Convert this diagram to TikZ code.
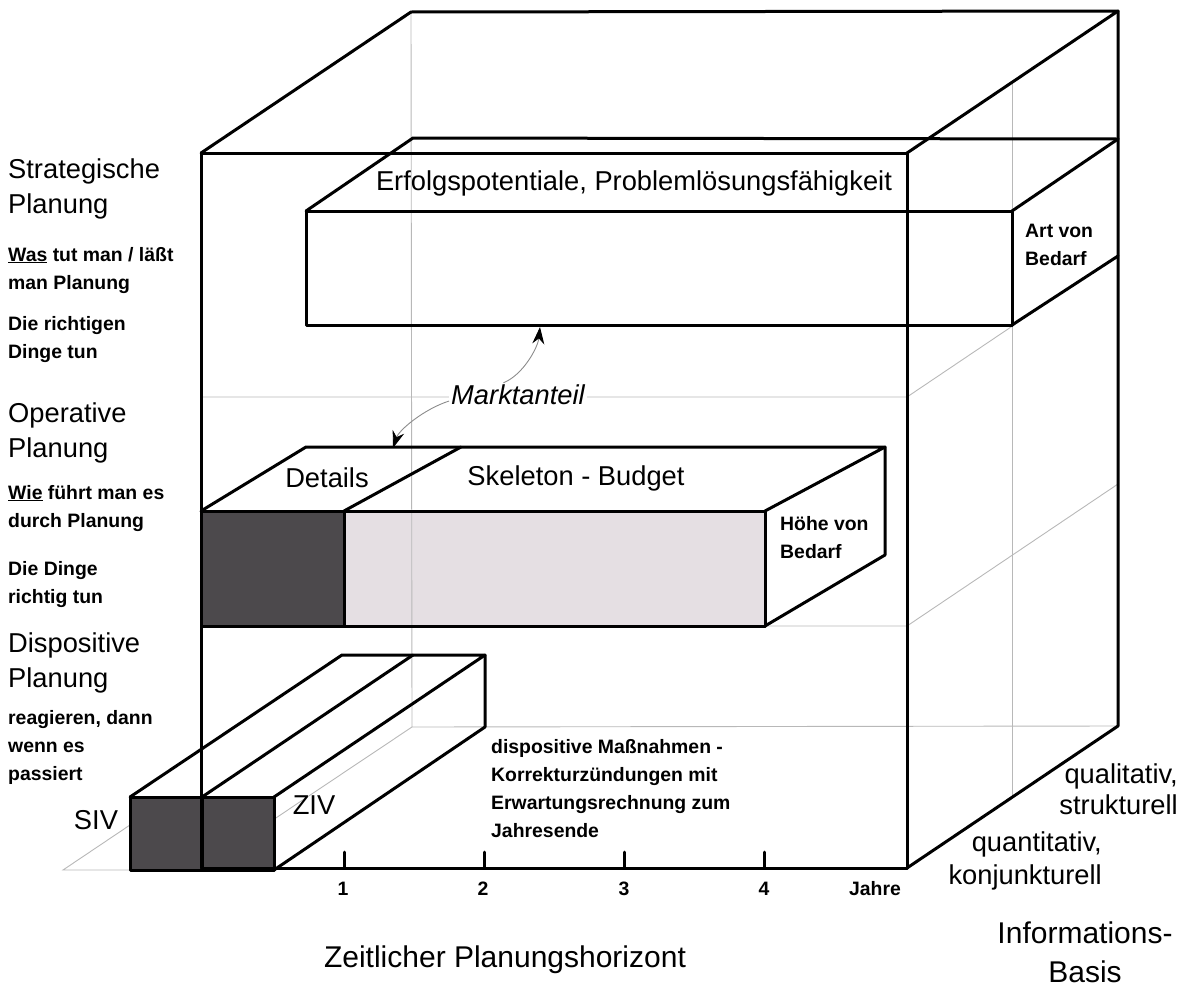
\documentclass[tikz,border=0pt]{standalone}
\usepackage{fontspec}
\setmainfont{Liberation Sans}
\usetikzlibrary{arrows.meta,calc}
\newcommand\grossschrift{\fontsize{27.3}{35}\selectfont}
\newcommand\kleinschrift{\fontsize{19.4}{28}\selectfont\bfseries}
\definecolor{dunkel}{RGB}{76,73,76}
\definecolor{hell}{RGB}{229,223,227}
\begin{document}
\begin{tikzpicture}[x=1pt,y=-1pt,
  kante/.style={line width=3pt,line join=round,line cap=round},
  verdeckt/.style={line width=0.9pt,black!28},
  gross/.style={font=\grossschrift,inner sep=0pt},
  klein/.style={font=\kleinschrift,inner sep=0pt,align=left},
  pfeil/.style={line width=0.9pt,black!45,-{Stealth[length=17pt,width=12pt,color=black]}}]
\useasboundingbox (0,0) rectangle (1186,988);
\coordinate (F1) at (201,153);
\coordinate (F2) at (907,153);
\coordinate (F3) at (907,868);
\coordinate (F4) at (201,868);
\coordinate (B1) at (411,12);
\coordinate (B2) at (1118,11);
\coordinate (B3) at (1118,726);
\coordinate (B4) at (412,727);
\coordinate (S1) at (306,211);
\coordinate (S2) at (1012,211);
\coordinate (S3) at (1012,325);
\coordinate (S5) at (413,138);
\coordinate (S6) at (1118,139);
\coordinate (S7) at (1118,256);
\coordinate (O1) at (201,511);
\coordinate (O2) at (765,511);
\coordinate (O3) at (765,626);
\coordinate (O5) at (306,447);
\coordinate (O6) at (885,447);
\coordinate (O7) at (885,555);
\coordinate (O8) at (344,511);
\coordinate (O9) at (461,447);
\coordinate (K1) at (130,797);
\coordinate (K2) at (274,797);
\coordinate (K3) at (274,870);
\coordinate (K5) at (342,655);
\coordinate (K6) at (485,655);
\coordinate (K7) at (485,727);
\coordinate (K8) at (202,797);
\coordinate (zielS) at (540,327);
\coordinate (zielO) at (393,448);
\fill[dunkel] (O1) rectangle (344,626);
\fill[hell] (O8) rectangle (O3);
\fill[dunkel] (K1) rectangle (K3);
\draw[verdeckt] (B1) -- (B4) -- (B3);
\draw[verdeckt] ($(F4)!0.35!(B4)$) -- (B4);
\draw[verdeckt] ($(F2)!0.5!(B2)$) -- ($(F3)!0.5!(B3)$);
\draw[verdeckt] (201,397) -- (907,397) -- (1118,255);
\draw[verdeckt] (O3) -- (907,626) -- (1118,484);
\draw[verdeckt] (130,870) -- (63,870) -- (130,825);
\draw[kante] (F1) rectangle (F3);
\draw[kante] (F1) -- (B1) -- (B2) -- (F2);
\draw[kante] (B2) -- (B3) -- (F3);
\draw[kante] (S1) rectangle (S3);
\draw[kante] (S1) -- (S5) -- (S6);
\draw[kante] (S2) -- (S6);
\draw[kante] (S3) -- (S7);
\draw[kante] (O1) rectangle (O3);
\draw[kante] (O8) -- (344,626);
\draw[kante] (O1) -- (O5) -- (O6) -- (O2);
\draw[kante] (O6) -- (O7) -- (O3);
\draw[kante] (O8) -- (O9);
\draw[kante] (K1) rectangle (K3);
\draw[kante] (K8) -- (202,870);
\draw[kante] (K1) -- (K5) -- (K6) -- (K2);
\draw[kante] (K6) -- (K7) -- (K3);
\draw[kante] (K8) -- (413,655);
\draw[kante] (344,852) -- (344,868);
\draw[kante] (484,852) -- (484,868);
\draw[kante] (624,852) -- (624,868);
\draw[kante] (764,852) -- (764,868);
\node[klein] (j1) at (343,889) {1};
\node[klein] (j2) at (483,889) {2};
\node[klein] (j3) at (624,889) {3};
\node[klein] (j4) at (764,889) {4};
\node[klein] (jahre) at (875,889) {Jahre};
\node[gross] (erfolg) at (634,183) {Erfolgspotentiale, Problemlösungsfähigkeit};
\node[gross] (details) at (327,478) {Details};
\node[gross] (skeleton) at (576,478) {Skeleton - Budget};
\node[klein,anchor=base west] (art) at (1025,265) {Art von\\Bedarf};
\node[klein,anchor=base west] (hoehe) at (780,558) {Höhe von\\Bedarf};
\node[gross,font=\grossschrift\itshape,fill=white,inner sep=2pt] (markt) at (518,395) {Marktanteil};
\draw[pfeil] (markt.140) .. controls +(20,-8) and +(-2,20) .. (zielS);
\draw[pfeil] (markt.185) .. controls +(-25,8) and +(6,-18) .. (zielO);
\node[gross] (siv) at (96,820) {SIV};
\node[gross] (ziv) at (314,805) {ZIV};
\node[klein,anchor=base west] (massn) at (491,837) {dispositive Maßnahmen -\\Korrekturzündungen mit\\Erwartungsrechnung zum\\Jahresende};
\node[gross,font=\fontsize{27.3}{31}\selectfont,align=right,anchor=base east] (quali) at (1178,814) {qualitativ,\\strukturell};
\node[gross,font=\fontsize{27.3}{33}\selectfont,align=right,anchor=base east] (quanti) at (1102,884) {quantitativ,\\konjunkturell};
\node[gross,font=\fontsize{30}{39}\selectfont,align=center] (info) at (1085,952) {Informations-\\Basis};
\node[gross,font=\fontsize{30}{36}\selectfont] (zeit) at (505,960) {Zeitlicher Planungshorizont};
\node[gross,align=left,anchor=base west] (strat) at (8,213) {Strategische\\Planung};
\node[klein,anchor=base west] (was) at (8,289) {\underline{Was} tut man / läßt\\man Planung};
\node[klein,anchor=base west] (richtig) at (8,358) {Die richtigen\\Dinge tun};
\node[gross,align=left,anchor=base west] (oper) at (8,457) {Operative\\Planung};
\node[klein,anchor=base west] (wie) at (8,527) {\underline{Wie} führt man es\\durch Planung};
\node[klein,anchor=base west] (dinge) at (8,603) {Die Dinge\\richtig tun};
\node[gross,align=left,anchor=base west] (dispo) at (8,687) {Dispositive\\Planung};
\node[klein,anchor=base west] (reag) at (8,780) {reagieren, dann\\wenn es\\passiert};
\end{tikzpicture}
\end{document}
